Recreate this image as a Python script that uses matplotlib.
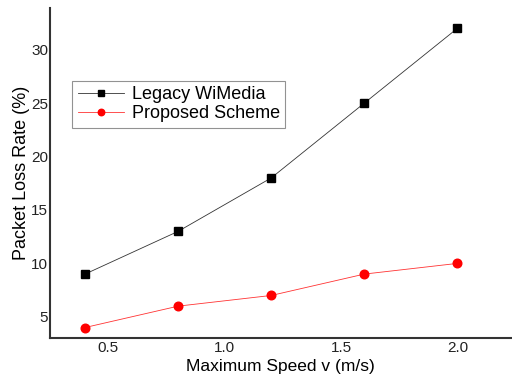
import matplotlib
matplotlib.use("Agg")
import matplotlib.pyplot as plt

speed = [0.4, 0.8, 1.2, 1.6, 2.0]
legacy = [9, 13, 18, 25, 32]
proposed = [4, 6, 7, 9, 10]
xticks = [0.5, 1.0, 1.5, 2.0]
yticks = [5, 10, 15, 20, 25, 30]

plt.rcParams['font.family'] = ['Liberation Sans', 'DejaVu Sans']

fig = plt.figure(figsize=(5.12, 3.8), dpi=100)
ax = fig.add_axes([0.098, 0.110, 0.900, 0.869])

ax.plot(speed, legacy, color='#333333', lw=0.6, marker='s', ms=5.6,
        mfc='black', mec='black', label='Legacy WiMedia')
ax.plot(speed, proposed, color='#ff3333', lw=0.6, marker='o', ms=6.2,
        mfc='red', mec='red', label='Proposed Scheme')

ax.set_xlim(0.25, 2.23)
ax.set_ylim(3.0, 33.9)
ax.set_xticks(xticks)
ax.set_xticklabels([f"{v:.1f}" for v in xticks])
ax.set_yticks(yticks)
ax.tick_params(length=0, labelsize=11, colors='#222222')
ax.tick_params(axis='y', pad=1.5)
ax.tick_params(axis='x', pad=2)
for s in ['top', 'right']:
    ax.spines[s].set_visible(False)
for s in ['left', 'bottom']:
    ax.spines[s].set_linewidth(1.5)
    ax.spines[s].set_color('#333333')

ax.set_xlabel('Maximum Speed v (m/s)', fontsize=12.5, labelpad=3)
ax.set_ylabel('Packet Loss Rate (%)', fontsize=13, labelpad=1)

leg = ax.legend(loc='upper left', bbox_to_anchor=(0.028, 0.807), fontsize=13,
                frameon=True, fancybox=False, edgecolor='#777777',
                handlelength=2.6, borderpad=0.3, labelspacing=0.12,
                handletextpad=0.4, markerscale=0.75)
leg.get_frame().set_linewidth(0.8)

fig.savefig('out.png', dpi=100)
